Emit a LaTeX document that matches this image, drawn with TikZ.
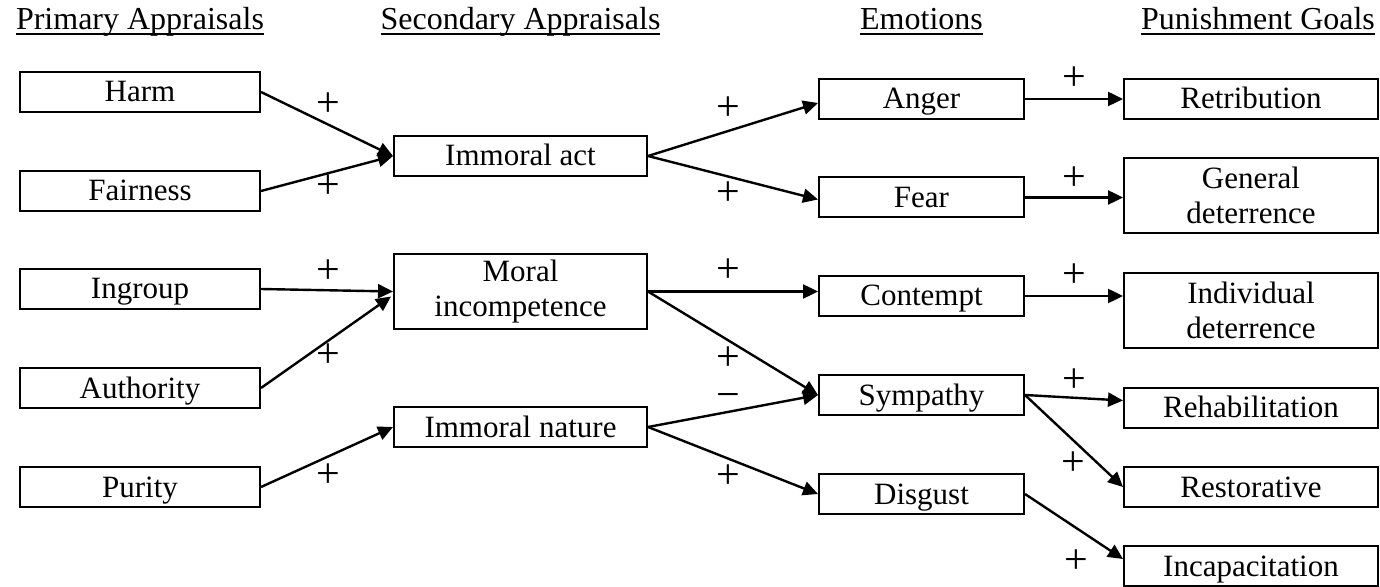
\documentclass[tikz,border=0pt]{standalone}
\usepackage{fontspec}
\setmainfont{Liberation Serif}
\usetikzlibrary{arrows.meta,calc}
% underlined heading with a thicker rule
\newcommand{\ulined}[1]{\setbox0\hbox{#1}\leavevmode\rlap{\rule[-2.6pt]{\wd0}{1pt}}\box0}

\begin{document}
\begin{tikzpicture}[x=0.5pt,y=-0.5pt,
  txt/.style={font=\fontsize{15.5}{17.5}\selectfont},
  box/.style={txt,draw,line width=1pt,inner sep=0pt,align=center,minimum height=20pt},
  one/.style={text height=12pt,text depth=2pt},
  pbox/.style={box,one,minimum width=120pt},
  sbox/.style={box,minimum width=126.5pt},
  ebox/.style={box,one,minimum width=102.5pt},
  gbox/.style={box,minimum width=127pt},
  tall/.style={minimum height=37.5pt},
  hdr/.style={font=\fontsize{16}{18}\selectfont,inner sep=0pt,anchor=base},
  sign/.style={font=\fontsize{21}{22}\selectfont,inner sep=0pt,text height=10.5pt,text depth=0pt},
  link/.style={line width=1.2pt,-{Triangle[length=7.5pt,width=7pt]}}]
\useasboundingbox (0,0) rectangle (1380,587);

% column headings
\node[hdr] (h1) at (140,30) {\ulined{Primary Appraisals}};
\node[hdr] (h2) at (520.5,30) {\ulined{Secondary Appraisals}};
\node[hdr] (h3) at (921.5,30) {\ulined{Emotions}};
\node[hdr] (h4) at (1258,30) {\ulined{Punishment Goals}};

% primary appraisals
\node[pbox] (harm) at (140,92) {Harm};
\node[pbox] (fair) at (140,191) {Fairness};
\node[pbox] (ingr) at (140,289) {Ingroup};
\node[pbox] (auth) at (140,388) {Authority};
\node[pbox] (pur)  at (140,487) {Purity};

% secondary appraisals
\node[sbox,one] (act) at (520.5,156) {Immoral act};
\node[sbox,tall] (inc) at (520.5,291.5) {Moral\\incompetence};
\node[sbox,one] (nat) at (520.5,427) {Immoral nature};

% emotions
\node[ebox] (ang) at (921.5,99) {Anger};
\node[ebox] (fea) at (921.5,197.5) {Fear};
\node[ebox] (con) at (921.5,296) {Contempt};
\node[ebox] (sym) at (921.5,395) {Sympathy};
\node[ebox] (dis) at (921.5,494) {Disgust};

% punishment goals
\node[gbox,one] (ret) at (1251,99) {Retribution};
\node[gbox,tall] (gen) at (1251,195.5) {General\\deterrence};
\node[gbox,tall] (ind) at (1251,310.5) {Individual\\deterrence};
\node[gbox,one] (reh) at (1251,407.5) {Rehabilitation};
\node[gbox,one] (res) at (1251,487) {Restorative};
\node[gbox,one] (icp) at (1251,566) {Incapacitation};

% primary -> secondary
\draw[link] (harm.east) -- (act.west);
\draw[link] (fair.east) -- (act.west);
\draw[link] (ingr.east) -- (inc.west);
\draw[link] (auth.east) -- ($(inc.west)+(-2,5)$);
\draw[link] (pur.east) -- (nat.west);

% secondary -> emotions
\draw[link] (act.east) -- ($(ang.west)+(0,4)$);
\draw[link] (act.east) -- ($(fea.west)+(0,2)$);
\draw[link] (inc.east) -- (inc.east -| con.west);
\draw[link] (inc.east) -- (sym.west);
\draw[link] (nat.east) -- (sym.west);
\draw[link] (nat.east) -- (dis.west);

% emotions -> goals
\draw[link] (ang.east) -- (ret.west);
\draw[link] (fea.east) -- (fea.east -| gen.west);
\draw[link] (con.east) -- (con.east -| ind.west);
\draw[link] (sym.east) -- ($(reh.west)+(0,-7)$);
\draw[link] (sym.east) -- (res.west);
\draw[link] (dis.east) -- ($(icp.west)+(0,-7)$);

% signs on the links
\node[sign] (s1) at (328,106) {+};
\node[sign] (s2) at (328,188) {+};
\node[sign] (s3) at (328,273) {+};
\node[sign] (s4) at (328,357) {+};
\node[sign] (s5) at (328,477) {+};
\node[sign] (s6) at (728,110) {+};
\node[sign] (s7) at (728,195) {+};
\node[sign] (s8) at (728,272) {+};
\node[sign] (s9) at (728,360) {+};
\node[sign] (s10) at (728,398) {−};
\node[sign] (s11) at (728,478) {+};
\node[sign] (s12) at (1074,80) {+};
\node[sign] (s13) at (1074,180) {+};
\node[sign] (s14) at (1074,277) {+};
\node[sign] (s15) at (1074,382) {+};
\node[sign] (s16) at (1073,465) {+};
\node[sign] (s17) at (1076,563) {+};
\end{tikzpicture}
\end{document}
